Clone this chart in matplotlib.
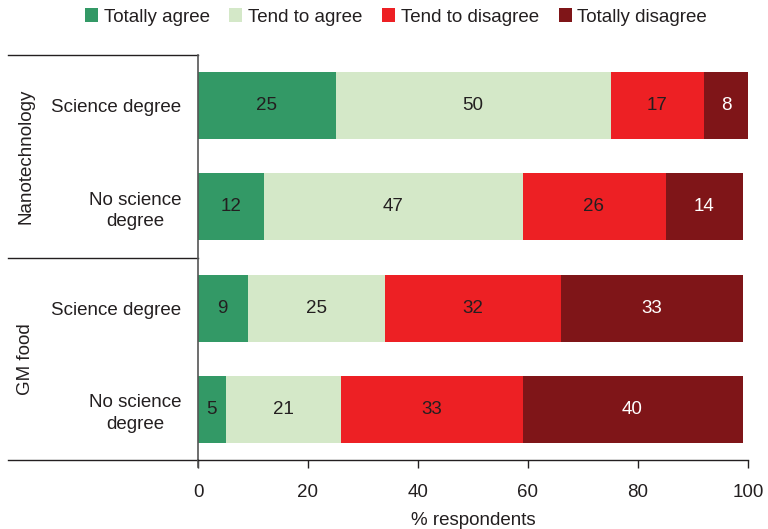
import matplotlib
matplotlib.use("Agg")
import matplotlib.pyplot as plt
from matplotlib.patches import Patch
import numpy as np

plt.rcParams['font.family'] = ['Liberation Sans', 'DejaVu Sans']

categories = ["Science degree", "No science\ndegree", "Science degree", "No science\ndegree"]
groups = ["Nanotechnology", "GM food"]
series_names = ["Totally agree", "Tend to agree", "Tend to disagree", "Totally disagree"]
totally_agree = [25, 12, 9, 5]
tend_agree = [50, 47, 25, 21]
tend_disagree = [17, 26, 32, 33]
totally_disagree = [8, 14, 33, 40]
xticks = [0, 20, 40, 60, 80, 100]

colors = ["#339966", "#d4e8c8", "#ed2024", "#7f1518"]
label_colors = ["#231f20", "#231f20", "#231f20", "#ffffff"]
txt = "#231f20"
FS = 13.5

W, H = 768, 529
fig = plt.figure(figsize=(W / 100, H / 100), dpi=100)
ax = fig.add_axes([198 / W, 1 - 460 / H, 550 / W, 405 / H])

y = np.arange(len(categories))
data = [totally_agree, tend_agree, tend_disagree, totally_disagree]
left = np.zeros(len(categories))
for vals, c, lc, name in zip(data, colors, label_colors, series_names):
    vals = np.array(vals, dtype=float)
    ax.barh(y, vals, left=left, height=0.66, color=c, label=name)
    for yi, v, l in zip(y, vals, left):
        ax.text(l + v / 2, yi, f"{int(v)}", ha="center", va="center",
                fontsize=FS, color=lc)
    left += vals

ax.set_xlim(0, 100)
ax.set_ylim(3.5, -0.5)
ax.set_xticks(xticks)
ax.set_xticklabels([str(t) for t in xticks], fontsize=FS, color=txt)
ax.set_yticks(y)
ax.set_yticklabels(categories, fontsize=FS, color=txt, multialignment="center",
                   linespacing=1.35)
ax.tick_params(axis="y", length=0, pad=12)
ax.tick_params(axis="x", length=6, width=1, color="#231f20", pad=11, direction="out")
ax.set_xlabel("% respondents", fontsize=FS, color=txt, labelpad=8)

for s in ["top", "right"]:
    ax.spines[s].set_visible(False)
ax.spines["left"].set_color("#555555")
ax.spines["left"].set_linewidth(1.2)
ax.spines["bottom"].set_color("#231f20")
ax.spines["bottom"].set_linewidth(1)

# group separator lines on the left
trans = ax.get_yaxis_transform()
x0 = (8 - 198) / 550
for yy in [-0.5, 1.5, 3.5]:
    ax.plot([x0, 0], [yy, yy], color="#231f20", lw=1, transform=trans, clip_on=False)
ax.plot([0, 0], [3.5, 3.57], color="#555555", lw=1.2, transform=ax.transData, clip_on=False)

for gi, g in enumerate(groups):
    yc = gi * 2 + 0.5
    ax.text((26 - 198) / 550, yc, g, transform=trans, rotation=90,
            ha="center", va="center", fontsize=FS, color=txt)

handles = [Patch(facecolor=c, edgecolor="none") for c in colors]
fig.legend(handles, series_names, loc="center", bbox_to_anchor=(396 / W, 1 - 17 / H),
           ncol=4, frameon=False, fontsize=FS, handlelength=0.7, handleheight=0.7,
           handletextpad=0.3, columnspacing=1.05, labelcolor=txt)

fig.savefig("out.png", dpi=100)
